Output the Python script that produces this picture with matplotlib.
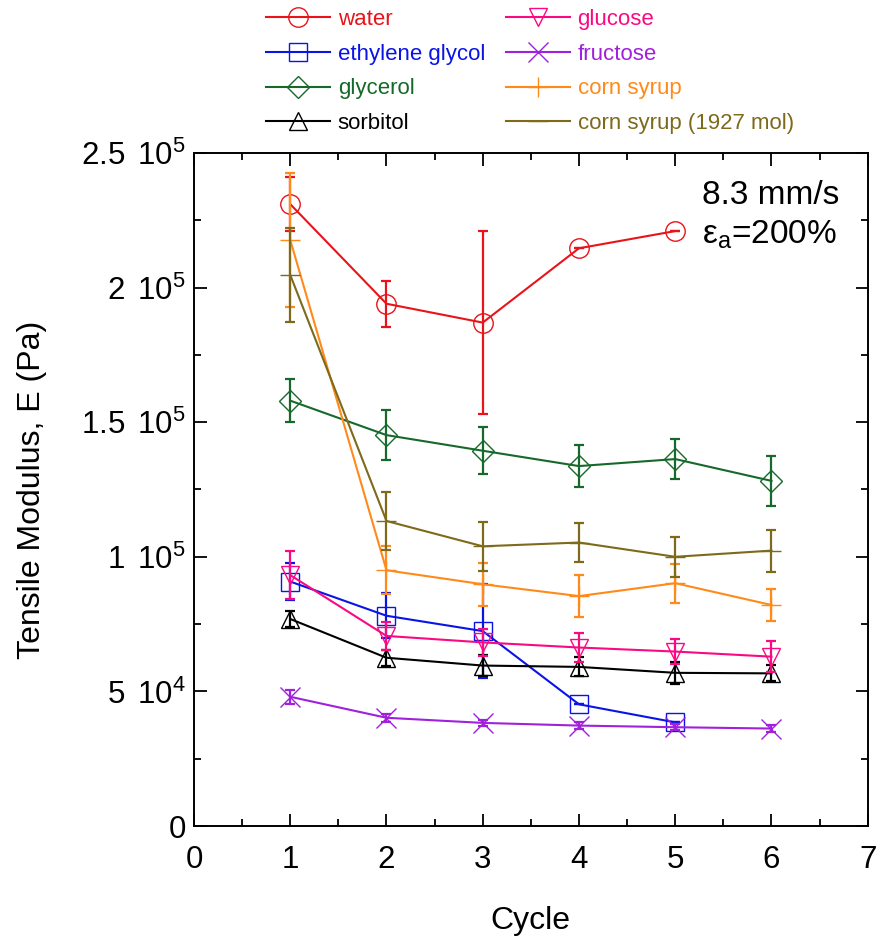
import numpy as np
import matplotlib.pyplot as plt
from matplotlib.ticker import MultipleLocator, FixedLocator

plt.rcParams['font.family'] = ['Liberation Sans', 'DejaVu Sans']
plt.rcParams['mathtext.fontset'] = 'custom'
plt.rcParams['mathtext.rm'] = 'Liberation Sans'
plt.rcParams['mathtext.it'] = 'Liberation Sans:italic'

cycle = np.array([1, 2, 3, 4, 5, 6])

# modulus values [Pa] and error bars
water = [2.31e5, 1.94e5, 1.87e5, 2.146e5, 2.21e5]
water_err = [1.0e4, 8.6e3, 3.4e4, 0, 0]
eg = [0.908e5, 0.781e5, 0.724e5, 0.452e5, 0.385e5]
eg_err = [7e3, 8.4e3, 1.75e4, 0, 0]
glycerol = [1.58e5, 1.452e5, 1.394e5, 1.337e5, 1.363e5, 1.282e5]
glycerol_err = [8e3, 9.2e3, 8.8e3, 7.8e3, 7.3e3, 9.4e3]
sorbitol = [0.769e5, 0.625e5, 0.596e5, 0.591e5, 0.569e5, 0.567e5]
sorbitol_err = [3e3, 3e3, 4e3, 3.5e3, 4e3, 3e3]
glucose = [0.932e5, 0.706e5, 0.682e5, 0.663e5, 0.648e5, 0.629e5]
glucose_err = [9e3, 5.3e3, 5e3, 5.5e3, 4.8e3, 5.8e3]
fructose = [0.480e5, 0.402e5, 0.383e5, 0.373e5, 0.367e5, 0.362e5]
fructose_err = [2.5e3, 1.5e3, 1.2e3, 1.2e3, 1.2e3, 1.2e3]
corn = [2.177e5, 0.950e5, 0.898e5, 0.854e5, 0.902e5, 0.821e5]
corn_err = [2.5e4, 9e3, 8e3, 7.8e3, 7.2e3, 6e3]
corn1927 = [2.047e5, 1.133e5, 1.039e5, 1.053e5, 1.000e5, 1.023e5]
corn1927_err = [1.75e4, 1.07e4, 9e3, 7.4e3, 7.5e3, 7.8e3]

ytick_vals = [0, 5e4, 1e5, 1.5e5, 2e5, 2.5e5]
ytick_labels = ['0', r'5 $\,$10$^{4}$', r'1 $\,$10$^{5}$', r'1.5 $\,$10$^{5}$',
                r'2 $\,$10$^{5}$', r'2.5 $\,$10$^{5}$']

series = [
    ('water', water, water_err, '#e8141a', 'o', 14),
    ('ethylene glycol', eg, eg_err, '#0a14e6', 's', 13),
    ('glycerol', glycerol, glycerol_err, '#16692a', 'D', 11),
    ('sorbitol', sorbitol, sorbitol_err, '#000000', '^', 13),
    ('glucose', glucose, glucose_err, '#fa0a82', 'v', 13),
    ('fructose', fructose, fructose_err, '#a020dc', 'x', 14),
    ('corn syrup', corn, corn_err, '#ff8a1a', '+', 15),
    ('corn syrup (1927 mol)', corn1927, corn1927_err, '#7d6a1a', '_', 15),
]

fig = plt.figure(figsize=(8.83, 9.38), dpi=100)
ax = fig.add_axes([0.2197, 0.1194, 0.763, 0.7175])

handles = []
for name, y, err, c, m, ms in series:
    x = cycle[:len(y)]
    ax.errorbar(x, y, yerr=err, fmt='none', ecolor=c, elinewidth=1.6,
                capsize=3.6, capthick=1.6)
    h, = ax.plot(x, y, '-', color=c, lw=1.5, marker=m, ms=ms,
                 mfc='none', mec=c, mew=1.0, label=name)
    handles.append(h)

ax.set_xlim(0, 7)
ax.set_ylim(0, 2.5e5)
ax.xaxis.set_major_locator(MultipleLocator(1))
ax.xaxis.set_minor_locator(MultipleLocator(0.5))
ax.yaxis.set_major_locator(FixedLocator(ytick_vals))
ax.yaxis.set_minor_locator(MultipleLocator(2.5e4))
ax.set_yticklabels(ytick_labels)
ax.tick_params(which='both', direction='in', top=True, right=True,
               labelsize=22.5, width=1.3)
ax.tick_params(which='major', length=9)
ax.tick_params(axis='x', which='major', pad=14)
ax.tick_params(axis='y', which='major', pad=6)
ax.tick_params(which='minor', length=5)
for s in ax.spines.values():
    s.set_linewidth(1.4)

ax.set_xlabel('Cycle', fontsize=23, labelpad=22)
ax.set_ylabel('Tensile Modulus, E (Pa)', fontsize=23, va='center')
ax.yaxis.set_label_coords(-0.24, 0.5)

ax.text(5.28, 2.311e5, '8.3 mm/s', fontsize=24, va='baseline', ha='left')
ax.text(5.28, 2.165e5, 'ε$_\\mathregular{a}$=200%', fontsize=24,
        va='baseline', ha='left')

leg = fig.legend(handles, [s[0] for s in series],
                 ncol=2, frameon=False, fontsize=16, labelcolor='linecolor',
                 loc='upper left', bbox_to_anchor=(0.279, 1.012),
                 handlelength=2.85, handletextpad=0.36, columnspacing=0.95,
                 labelspacing=0.62)

fig.savefig('out.png', dpi=100)
